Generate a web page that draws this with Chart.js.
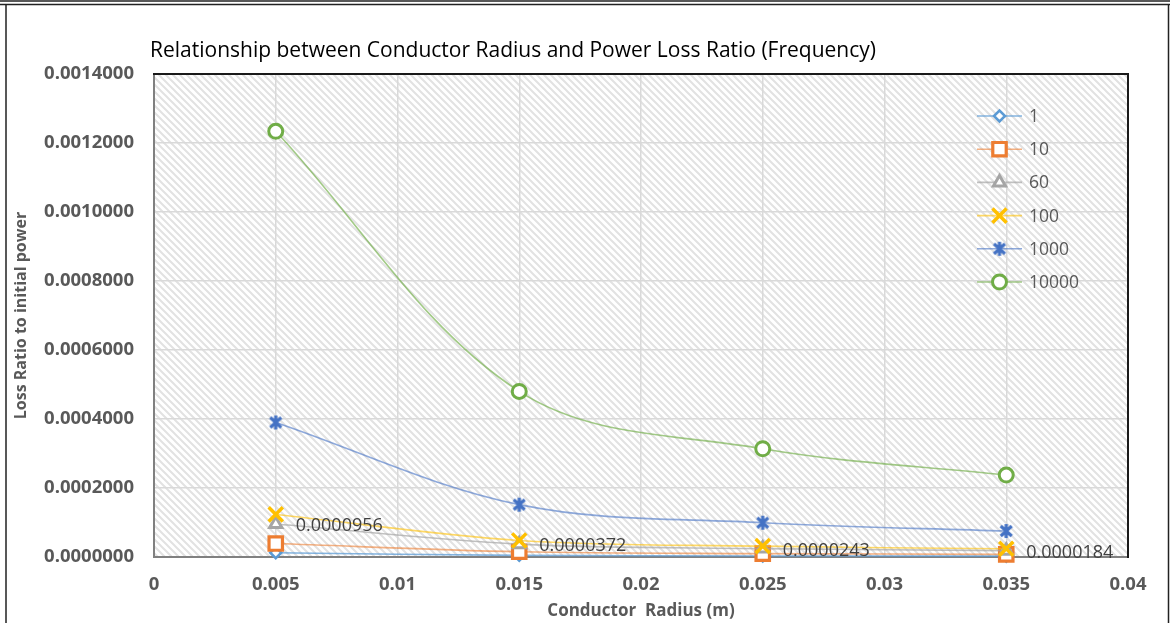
<!DOCTYPE html>
<html>
<head>
<meta charset="utf-8">
<script src="https://cdn.jsdelivr.net/npm/chart.js@4/dist/chart.umd.min.js"></script>
<style>
  html, body { margin: 0; padding: 0; background: #fff; }
  #wrap { width: 1170px; height: 623px; position: relative; }
</style>
</head>
<body>
<div id="wrap"><canvas id="lossChart"></canvas></div>
<script>
// conductor radius (m) and loss ratio per frequency (Hz)
const radii = [0.005, 0.015, 0.025, 0.035];
const freqLabels = ['1', '10', '60', '100', '1000', '10000'];
const loss1 = [0.0000123, 0.0000048, 0.0000031, 0.0000024];
const loss10 = [0.0000390, 0.0000152, 0.0000099, 0.0000075];
const loss60 = [0.0000956, 0.0000372, 0.0000243, 0.0000184];
const loss100 = [0.0001234, 0.0000480, 0.0000314, 0.0000238];
const loss1000 = [0.0003900, 0.0001518, 0.0000993, 0.0000752];
const loss10000 = [0.0012340, 0.0004800, 0.0003138, 0.0002376];
const xTicks = [0, 0.005, 0.01, 0.015, 0.02, 0.025, 0.03, 0.035, 0.04];
const yTicks = [0, 0.0002, 0.0004, 0.0006, 0.0008, 0.001, 0.0012, 0.0014];
const labelledSeries = 2; // the 60 Hz series gets value labels

const FONT = "'Open Sans', 'Liberation Sans', sans-serif";
const GREY = '#595959';

// asterisk-like marker: an X with a vertical bar
const makeStar = (color) => {
    const c = document.createElement('canvas');
    c.width = 18; c.height = 18;
    const g = c.getContext('2d');
    g.strokeStyle = color;
    g.lineWidth = 3.2;
    g.lineCap = 'butt';
    g.beginPath();
    g.moveTo(3.5, 4); g.lineTo(14.5, 14);
    g.moveTo(14.5, 4); g.lineTo(3.5, 14);
    g.moveTo(9, 2); g.lineTo(9, 16);
    g.stroke();
    return c;
};

const seriesStyle = [
    { color: '#5B9BD5', line: 'rgba(91,155,213,0.75)', style: 'rectRot', radius: 5.5, width: 2.5 },
    { color: '#ED7D31', line: 'rgba(237,125,49,0.6)', style: 'rect', radius: 9.5, width: 3.2 },
    { color: '#A5A5A5', line: 'rgba(165,165,165,0.7)', style: 'triangle', radius: 7, width: 3 },
    { color: '#FFC000', line: 'rgba(255,192,0,0.6)', style: 'crossRot', radius: 10, width: 3.5 },
    { color: '#4472C4', line: 'rgba(68,114,196,0.6)', style: makeStar('#4472C4'), radius: 9, width: 3 },
    { color: '#70AD47', line: 'rgba(112,173,71,0.65)', style: 'circle', radius: 7, width: 3 },
];
const seriesValues = [loss1, loss10, loss60, loss100, loss1000, loss10000];

const datasets = seriesValues.map((vals, i) => ({
    label: freqLabels[i],
    data: radii.map((r, j) => ({ x: r, y: vals[j] })),
    borderColor: seriesStyle[i].line,
    borderWidth: 1.6,
    cubicInterpolationMode: 'default',
    tension: 0.35,
    pointStyle: seriesStyle[i].style,
    pointRadius: seriesStyle[i].radius,
    pointHoverRadius: seriesStyle[i].radius,
    pointBorderColor: seriesStyle[i].color,
    pointBackgroundColor: '#ffffff',
    pointBorderWidth: seriesStyle[i].width,
    clip: false,
    order: seriesValues.length - i,
}));

// striped plot background
const makeHatch = (ctx) => {
    const s = 7;
    const c = document.createElement('canvas');
    c.width = s; c.height = s;
    const g = c.getContext('2d');
    g.fillStyle = '#ffffff';
    g.fillRect(0, 0, s, s);
    g.strokeStyle = '#e2e2e2';
    g.lineWidth = 2;
    g.beginPath();
    g.moveTo(-1, -1); g.lineTo(s + 1, s + 1);
    g.moveTo(-1, s - 1); g.lineTo(1, s + 1);
    g.moveTo(s - 1, -1); g.lineTo(s + 1, 1);
    g.stroke();
    return ctx.createPattern(c, 'repeat');
};

const backdrop = {
    id: 'backdrop',
    beforeDraw(chart) {
        const { ctx, chartArea: a } = chart;
        ctx.save();
        ctx.fillStyle = '#ffffff';
        ctx.fillRect(0, 0, chart.width, chart.height);
        ctx.fillStyle = makeHatch(ctx);
        ctx.fillRect(a.left, a.top, a.right - a.left, a.bottom - a.top);
        ctx.restore();
    },
    afterDraw(chart) {
        const { ctx, chartArea: a } = chart;
        ctx.save();
        // plot frame, top and right side
        ctx.strokeStyle = '#1a1a1a';
        ctx.lineWidth = 2;
        ctx.beginPath();
        ctx.moveTo(a.left - 1, a.top);
        ctx.lineTo(a.right, a.top);
        ctx.lineTo(a.right, a.bottom + 1);
        ctx.stroke();
        // page frame
        ctx.lineWidth = 1.5;
        ctx.strokeStyle = '#222';
        ctx.beginPath();
        ctx.moveTo(0, 1); ctx.lineTo(chart.width, 1);
        ctx.moveTo(0, 4.5); ctx.lineTo(chart.width, 4.5);
        ctx.moveTo(6, 4.5); ctx.lineTo(6, chart.height);
        ctx.moveTo(1168.5, 4.5); ctx.lineTo(1168.5, chart.height);
        ctx.stroke();
        // title
        ctx.fillStyle = '#000';
        ctx.font = '21px ' + FONT;
        ctx.textAlign = 'left';
        ctx.textBaseline = 'middle';
        ctx.fillText('Relationship between Conductor Radius and Power Loss Ratio (Frequency)', 150, 51);
        ctx.restore();
    }
};

// value labels on the 60 Hz series
const valueLabels = {
    id: 'valueLabels',
    afterDatasetsDraw(chart) {
        const { ctx } = chart;
        const meta = chart.getDatasetMeta(labelledSeries);
        ctx.save();
        ctx.fillStyle = '#404040';
        ctx.font = '18px ' + FONT;
        ctx.textAlign = 'left';
        ctx.textBaseline = 'middle';
        meta.data.forEach((pt, j) => {
            ctx.fillText(seriesValues[labelledSeries][j].toFixed(7), pt.x + 20, pt.y + 2);
        });
        ctx.restore();
    }
};

// legend inside the plot, right side
const innerLegend = {
    id: 'innerLegend',
    afterDraw(chart) {
        const { ctx } = chart;
        const x0 = 977, x1 = 1022, tx = 1029, y0 = 116, step = 33.2;
        ctx.save();
        datasets.forEach((ds, i) => {
            const y = y0 + i * step;
            ctx.strokeStyle = ds.borderColor;
            ctx.lineWidth = 1.6;
            ctx.beginPath();
            ctx.moveTo(x0, y); ctx.lineTo(x1, y);
            ctx.stroke();
            ctx.strokeStyle = ds.pointBorderColor;
            ctx.fillStyle = '#ffffff';
            ctx.lineWidth = ds.pointBorderWidth;
            Chart.helpers.drawPoint(ctx, {
                pointStyle: ds.pointStyle,
                radius: ds.pointRadius,
                rotation: 0,
                borderWidth: ds.pointBorderWidth,
            }, (x0 + x1) / 2, y);
            ctx.fillStyle = GREY;
            ctx.font = '17.5px ' + FONT;
            ctx.textAlign = 'left';
            ctx.textBaseline = 'middle';
            ctx.fillText(ds.label, tx, y + 1);
        });
        ctx.restore();
    }
};

new Chart(document.getElementById('lossChart'), {
    type: 'line',
    data: { datasets: datasets },
    options: {
        responsive: true,
        maintainAspectRatio: false,
        animation: false,
        events: [],
        layout: { padding: { top: 74, right: 42, left: 8, bottom: 0 } },
        plugins: {
            legend: { display: false },
            tooltip: { enabled: false },
        },
        scales: {
            x: {
                type: 'linear',
                min: 0,
                max: 0.04,
                afterBuildTicks: (axis) => { axis.ticks = xTicks.map(v => ({ value: v })); },
                afterFit: (axis) => { axis.height = 66; },
                grid: { color: '#d9d9d9', lineWidth: 1.5, drawTicks: false },
                border: { color: '#808080', width: 2 },
                ticks: {
                    padding: 17,
                    color: GREY,
                    font: { family: FONT, size: 18.5, weight: 'bold' },
                    callback: (v) => String(Number(v.toFixed(3))),
                },
                title: {
                    display: true,
                    text: 'Conductor  Radius (m)',
                    color: GREY,
                    font: { family: FONT, size: 17, weight: 'bold' },
                    padding: { top: 0, bottom: 2 },
                },
            },
            y: {
                type: 'linear',
                min: 0,
                max: 0.0014,
                afterBuildTicks: (axis) => { axis.ticks = yTicks.map(v => ({ value: v })); },
                afterFit: (axis) => { axis.width = 146; },
                grid: { color: '#d9d9d9', lineWidth: 1.5, drawTicks: false },
                border: { color: '#808080', width: 2 },
                ticks: {
                    padding: 20,
                    color: GREY,
                    font: { family: FONT, size: 18.5, weight: 'bold' },
                    callback: (v) => v.toFixed(7),
                },
                title: {
                    display: true,
                    text: 'Loss Ratio to initial power',
                    color: GREY,
                    font: { family: FONT, size: 16, weight: 'bold' },
                    padding: { top: 4, bottom: 0 },
                },
            },
        },
    },
    plugins: [backdrop, valueLabels, innerLegend],
});
</script>
</body>
</html>
